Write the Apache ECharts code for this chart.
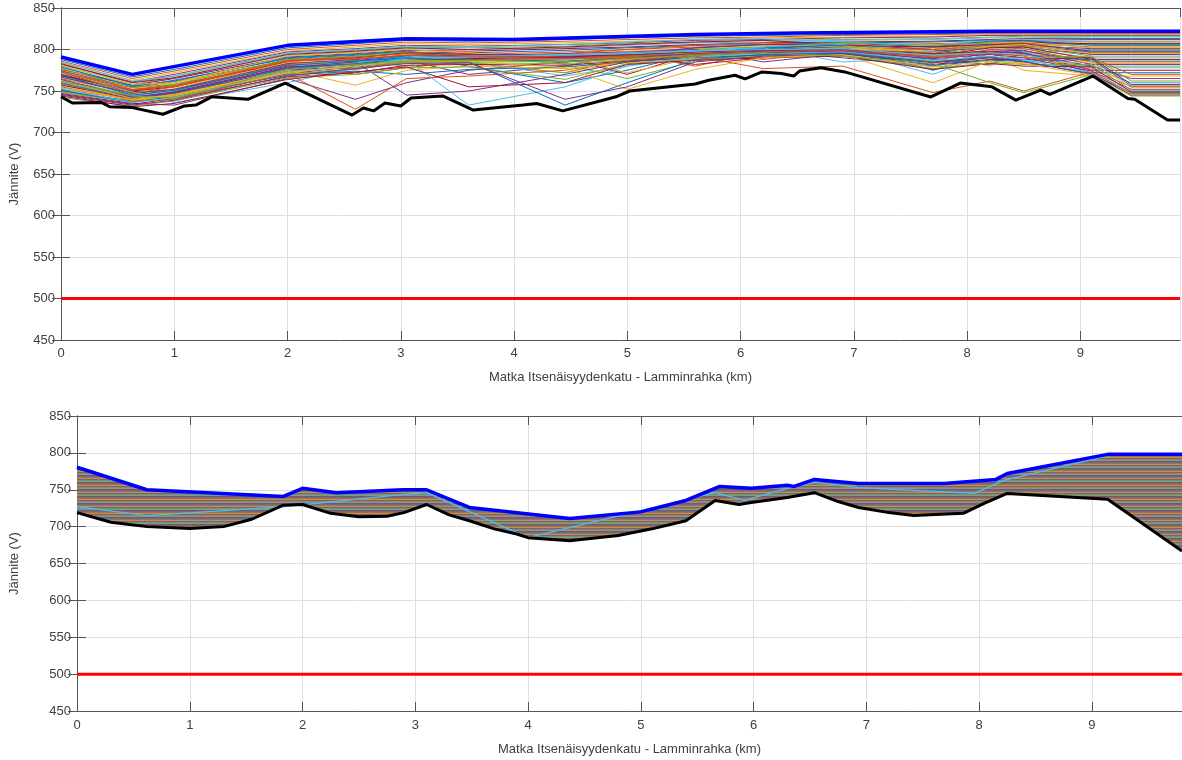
<!DOCTYPE html>
<html>
<head>
<meta charset="utf-8">
<title>Jännite</title>
<script src="https://cdn.jsdelivr.net/npm/echarts@6/dist/echarts.min.js"></script>
<style>
  html, body { margin: 0; padding: 0; background: #fff; }
  #main { width: 1182px; height: 760px; }
</style>
</head>
<body>
<div id="main"></div>
<script>
// x ticks (km) and y ticks (V)
var xTicks = [0, 1, 2, 3, 4, 5, 6, 7, 8, 9];
var yTicks = [450, 500, 550, 600, 650, 700, 750, 800, 850];
var limitV = 500;
var xName = 'Matka Itsenäisyydenkatu - Lamminrahka (km)';
var yName = 'Jännite (V)';

// ---- upper plot ----
var topUpper = [[0, 791], [0.63, 770], [2.0, 805], [3.05, 813], [4.0, 812], [5.6, 818], [6.5, 820], [8.2, 822], [9.88, 822]];
var topLower = [[0, 743], [0.1, 735.5], [0.36, 736], [0.43, 731], [0.63, 730], [0.9, 722], [1.09, 732], [1.19, 733],
  [1.33, 743], [1.65, 740], [1.98, 759.6], [2.57, 721], [2.67, 729.5], [2.76, 726], [2.86, 735.5], [3.0, 732],
  [3.09, 741.5], [3.37, 744], [3.64, 727], [4.08, 733], [4.2, 735], [4.43, 726], [4.9, 743], [5.02, 750],
  [5.6, 758.4], [5.72, 763], [5.95, 769], [6.04, 764.5], [6.19, 773], [6.36, 771], [6.47, 768], [6.52, 774],
  [6.71, 778], [6.92, 773], [7.68, 742.8], [7.94, 759.6], [8.22, 755], [8.43, 739], [8.65, 751], [8.73, 746],
  [9.11, 768], [9.42, 741], [9.48, 740], [9.77, 715], [9.88, 715]];

// km positions shared by the individual profiles
var runKm = [0, 0.63, 1.0, 2.0, 2.6, 3.05, 3.6, 4.45, 5.0, 5.6, 6.2, 6.9, 7.7, 8.2, 8.5, 9.1, 9.45, 9.88];
var topRuns = [
  [788, 767, 776, 802, 807, 811, 810, 812, 814, 816, 817, 818, 819, 820, 820, 820, 820, 820],
  [786, 765, 774, 800, 805, 809, 808, 810, 812, 814, 815, 817, 818, 819, 819, 819, 819, 819],
  [784, 763, 772, 798, 803, 807, 806, 808, 810, 812, 814, 815, 816, 818, 818, 818, 818, 818],
  [782, 761, 770, 797, 801, 805, 804, 806, 808, 811, 812, 814, 815, 817, 817, 817, 817, 817],
  [780, 760, 768, 795, 799, 803, 802, 804, 807, 809, 811, 812, 813, 815, 816, 816, 816, 816],
  [778, 758, 766, 793, 797, 801, 800, 802, 805, 808, 809, 811, 812, 814, 814, 815, 815, 815],
  [776, 757, 765, 791, 795, 799, 798, 801, 803, 806, 808, 809, 810, 812, 813, 813, 813, 813],
  [774, 755, 763, 789, 793, 797, 796, 799, 802, 805, 806, 808, 809, 811, 811, 812, 812, 812],
  [772, 754, 761, 787, 791, 795, 794, 797, 800, 803, 805, 806, 807, 809, 810, 810, 810, 810],
  [770, 752, 760, 785, 789, 793, 792, 795, 798, 801, 803, 805, 806, 808, 808, 809, 809, 809],
  [768, 751, 758, 783, 787, 791, 790, 793, 796, 799, 801, 803, 804, 806, 807, 807, 807, 807],
  [766, 750, 757, 781, 785, 789, 788, 791, 794, 798, 800, 801, 802, 804, 805, 806, 806, 806],
  [785, 762, 768, 796, 800, 804, 803, 806, 809, 812, 813, 809, 805, 811, 812, 809, 809, 809],
  [783, 760, 766, 794, 798, 802, 800, 803, 806, 809, 811, 806, 800, 808, 809, 807, 807, 807],
  [779, 756, 762, 790, 794, 798, 790, 785, 792, 802, 806, 808, 803, 810, 811, 805, 805, 805],
  [775, 752, 756, 785, 776, 786, 790, 795, 800, 805, 808, 804, 795, 806, 808, 803, 803, 803],
  [771, 749, 755, 782, 788, 794, 782, 772, 786, 800, 805, 807, 800, 808, 809, 802, 802, 802],
  [765, 748, 752, 780, 782, 787, 770, 780, 795, 802, 806, 806, 800, 790, 805, 801, 801, 801],
  [760, 745, 745, 776, 787, 780, 784, 772, 790, 800, 803, 808, 805, 808, 795, 800, 800, 800],
  [763, 745, 750, 778, 790, 796, 786, 768, 780, 797, 803, 806, 798, 806, 807, 799, 799, 799],
  [770, 750, 742, 770, 781, 793, 795, 790, 770, 795, 801, 805, 803, 806, 807, 798, 798, 798],
  [757, 743, 747, 774, 786, 792, 780, 760, 775, 795, 802, 805, 796, 805, 805, 797, 797, 797],
  [762, 742, 750, 782, 770, 778, 786, 792, 795, 780, 797, 802, 800, 804, 805, 796, 796, 796],
  [781, 758, 760, 792, 796, 800, 796, 790, 772, 790, 800, 804, 797, 804, 806, 795, 795, 795],
  [755, 740, 748, 775, 780, 790, 793, 795, 797, 800, 785, 795, 798, 802, 803, 794, 794, 794],
  [777, 754, 758, 788, 792, 797, 793, 782, 765, 786, 798, 803, 794, 803, 804, 792, 792, 792],
  [758, 746, 738, 778, 784, 789, 791, 794, 796, 799, 802, 785, 790, 800, 801, 790, 790, 790],
  [769, 750, 755, 786, 790, 796, 794, 792, 793, 782, 790, 800, 792, 802, 803, 788, 788, 788],
  [750, 738, 747, 772, 779, 786, 788, 790, 793, 797, 800, 803, 775, 795, 798, 786, 786, 786],
  [773, 751, 756, 787, 791, 795, 793, 791, 792, 796, 788, 798, 786, 800, 801, 785, 785, 785],
  [766, 744, 753, 784, 783, 788, 789, 786, 790, 796, 799, 802, 797, 780, 797, 783, 783, 783],
  [767, 747, 752, 783, 788, 793, 792, 790, 791, 795, 798, 790, 780, 798, 799, 782, 782, 782],
  [748, 737, 745, 770, 777, 785, 786, 788, 791, 795, 797, 799, 794, 797, 782, 780, 780, 780],
  [761, 744, 750, 779, 785, 791, 790, 788, 790, 794, 797, 800, 770, 796, 797, 778, 778, 778],
  [757, 741, 749, 779, 782, 787, 789, 791, 794, 797, 799, 800, 795, 798, 796, 775, 775, 775],
  [759, 742, 748, 777, 783, 789, 788, 786, 789, 793, 796, 799, 788, 782, 795, 772, 772, 772],
  [752, 740, 746, 774, 778, 784, 787, 789, 792, 794, 796, 798, 792, 795, 793, 790, 770, 770],
  [754, 739, 746, 773, 780, 787, 786, 785, 788, 792, 795, 797, 786, 792, 775, 768, 768, 768],
  [747, 735, 733, 765, 740, 760, 775, 785, 790, 795, 798, 800, 790, 797, 795, 780, 765, 765],
  [749, 737, 743, 770, 776, 784, 784, 783, 787, 791, 794, 796, 784, 790, 790, 792, 762, 762],
  [772, 749, 736, 760, 778, 790, 792, 793, 795, 798, 800, 801, 793, 796, 794, 778, 760, 760],
  [746, 734, 741, 767, 772, 781, 782, 781, 786, 790, 793, 795, 782, 788, 788, 790, 758, 758],
  [751, 736, 744, 769, 774, 770, 776, 779, 785, 790, 793, 795, 781, 787, 786, 788, 756, 756],
  [760, 738, 740, 771, 728, 765, 768, 775, 787, 794, 797, 799, 791, 795, 792, 776, 755, 755],
  [763, 741, 745, 775, 757, 775, 780, 777, 784, 789, 792, 794, 779, 786, 784, 785, 754, 754],
  [764, 743, 748, 778, 785, 745, 750, 770, 785, 793, 796, 798, 789, 794, 790, 774, 752, 752],
  [742, 732, 738, 766, 770, 778, 779, 764, 783, 788, 791, 793, 777, 784, 782, 782, 751, 751],
  [753, 736, 742, 773, 780, 788, 733, 755, 780, 791, 795, 797, 787, 792, 788, 772, 750, 750],
  [744, 731, 735, 764, 773, 779, 755, 760, 782, 787, 790, 792, 776, 783, 780, 779, 749, 749],
  [769, 745, 751, 781, 786, 790, 785, 733, 760, 788, 794, 796, 785, 791, 786, 770, 748, 748],
  [773, 747, 755, 786, 789, 793, 791, 789, 790, 792, 777, 780, 748, 762, 750, 773, 747, 747],
  [756, 739, 744, 772, 780, 786, 786, 778, 752, 776, 790, 794, 760, 786, 783, 769, 746, 746],
  [745, 733, 739, 768, 777, 783, 784, 740, 755, 785, 792, 795, 784, 790, 785, 771, 745, 745],
  [762, 744, 741, 776, 782, 786, 787, 785, 789, 793, 796, 792, 783, 760, 748, 770, 744, 744]
];

// ---- lower plot ----
var botUpper = [[0, 780.5], [0.62, 750], [1.83, 741], [2.0, 752], [2.3, 746], [2.89, 750], [3.1, 750], [3.48, 726],
  [4.37, 711], [5.0, 720], [5.4, 735.5], [5.7, 754.5], [5.98, 752], [6.3, 756], [6.36, 754.5], [6.54, 764],
  [6.93, 758.6], [7.69, 758.6], [8.15, 764], [8.25, 772], [9.14, 798], [9.8, 798]];
var botLower = [[0, 719], [0.3, 706], [0.62, 700], [1.0, 697.5], [1.3, 700], [1.55, 710], [1.83, 729], [2.0, 730],
  [2.25, 718], [2.5, 713.5], [2.75, 714], [2.9, 719], [3.1, 730], [3.3, 716], [3.48, 708], [3.7, 697], [3.9, 690],
  [4.0, 685], [4.37, 681], [4.8, 688], [5.1, 697], [5.4, 708], [5.66, 735.5], [5.87, 730], [5.98, 732.6],
  [6.3, 739.5], [6.54, 746], [6.75, 734], [6.93, 726], [7.2, 719], [7.42, 715], [7.86, 718], [8.05, 732],
  [8.25, 745], [9.14, 737], [9.8, 667]];
var botCyan = [[0, 727], [0.62, 715], [1.84, 727], [2.9, 743.6], [3.1, 746], [4.0, 685], [5.66, 746], [5.92, 735.5],
  [6.3, 752], [6.54, 760], [6.93, 753], [7.96, 745], [8.22, 762.7], [9.14, 796]];

var matlab = ['#0072BD', '#D95319', '#EDB120', '#7E2F8E', '#77AC30', '#4DBEEE', '#A2142F'];
var font = "'Liberation Sans', Arial, sans-serif";
var txt = '#404040';
var frame = '#555555';

// striped fill standing in for the dense bundle of profiles
var stripe = document.createElement('canvas');
stripe.width = 4; stripe.height = matlab.length;
var sctx = stripe.getContext('2d');
matlab.forEach(function (c, i) { sctx.fillStyle = c; sctx.fillRect(0, i, 4, 1); });

function mainX(grid, max, labelMargin, nameGap) {
  return {
    type: 'value', gridIndex: grid, min: 0, max: max, interval: 1, position: 'bottom',
    name: xName, nameLocation: 'middle', nameGap: nameGap,
    nameTextStyle: { color: txt, fontFamily: font, fontSize: 13 },
    axisLine: { show: true, lineStyle: { color: frame } },
    axisTick: { inside: true, length: 9, lineStyle: { color: frame } },
    axisLabel: { color: txt, fontFamily: font, fontSize: 13, margin: labelMargin, showMaxLabel: false },
    splitLine: { show: true, lineStyle: { color: '#dedede' } }
  };
}
function mirrorX(grid, max) {
  return {
    type: 'value', gridIndex: grid, min: 0, max: max, interval: 1, position: 'top',
    axisLine: { show: true, lineStyle: { color: frame } },
    axisTick: { inside: true, length: 9, lineStyle: { color: frame } },
    axisLabel: { show: false }, splitLine: { show: false }
  };
}
function mainY(grid, nameGap) {
  return {
    type: 'value', gridIndex: grid, min: 450, max: 850, interval: 50, position: 'left',
    name: yName, nameLocation: 'middle', nameGap: nameGap,
    nameTextStyle: { color: txt, fontFamily: font, fontSize: 13 },
    axisLine: { show: true, lineStyle: { color: frame } },
    axisTick: { inside: true, length: 9, lineStyle: { color: frame } },
    axisLabel: { color: txt, fontFamily: font, fontSize: 13, margin: 6 },
    splitLine: { show: true, lineStyle: { color: '#dedede' } }
  };
}
function mirrorY(grid) {
  return {
    type: 'value', gridIndex: grid, min: 450, max: 850, interval: 50, position: 'right',
    axisLine: { show: true, lineStyle: { color: frame } },
    axisTick: { inside: true, length: 9, lineStyle: { color: frame } },
    axisLabel: { show: false }, splitLine: { show: false }
  };
}

function lineSeries(data, color, width, xi, yi, z) {
  return {
    type: 'line', data: data, xAxisIndex: xi, yAxisIndex: yi, symbol: 'none', z: z || 2,
    lineStyle: { color: color, width: width }, silent: true
  };
}

var series = [];
topRuns.forEach(function (run, r) {
  var pts = runKm.map(function (x, i) { return [x, run[i]]; });
  series.push(lineSeries(pts, matlab[r % matlab.length], 1, 0, 0));
});
series.push(lineSeries(topLower, '#000000', 3, 0, 0, 4));
series.push(lineSeries(topUpper, '#0000ff', 3.5, 0, 0, 4));
series.push(lineSeries([[0, limitV], [9.88, limitV]], '#ff0000', 3, 0, 0, 4));

series.push({
  type: 'custom', xAxisIndex: 2, yAxisIndex: 2, data: [[0, limitV]], silent: true, z: 2,
  renderItem: function (params, api) {
    var pts = [];
    botUpper.forEach(function (p) { pts.push(api.coord(p)); });
    botLower.slice().reverse().forEach(function (p) { pts.push(api.coord(p)); });
    return {
      type: 'group',
      children: [
        { type: 'polygon', shape: { points: pts }, style: { fill: '#8e7e70' } },
        { type: 'polygon', shape: { points: pts },
          style: { fill: { type: 'pattern', image: stripe, repeat: 'repeat' }, opacity: 0.45 } }
      ]
    };
  }
});
series.push(lineSeries(botCyan, '#4DBEEE', 1.3, 2, 2, 3));
series.push(lineSeries(botLower, '#000000', 3, 2, 2, 4));
series.push(lineSeries(botUpper, '#0000ff', 3.5, 2, 2, 4));
series.push(lineSeries([[0, limitV], [9.8, limitV]], '#ff0000', 3, 2, 2, 4));

var chart = echarts.init(document.getElementById('main'), null, { renderer: 'canvas' });
chart.setOption({
  animation: false,
  backgroundColor: '#ffffff',
  grid: [
    { left: 56, top: 8, width: 1124, height: 332 },
    { left: 73, top: 416, width: 1109, height: 295 }
  ],
  xAxis: [mainX(0, 9.88, 7, 31), mirrorX(0, 9.88), mainX(1, 9.8, 8, 32), mirrorX(1, 9.8)],
  yAxis: [mainY(0, 40), mirrorY(0), mainY(1, 56), mirrorY(1)],
  series: series
});
</script>
</body>
</html>
